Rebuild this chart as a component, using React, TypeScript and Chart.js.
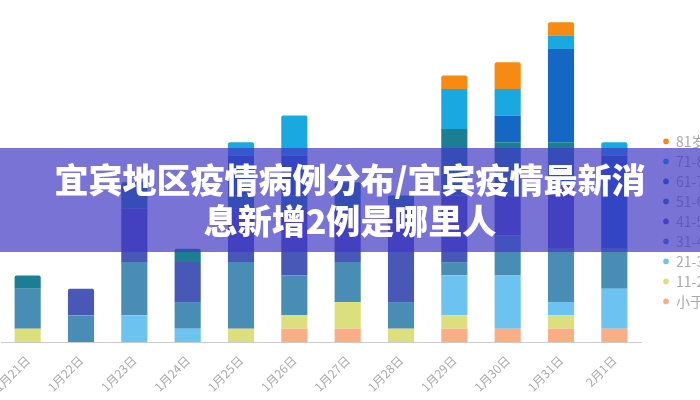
import { useEffect, useRef } from "react"
import { Chart, registerables } from "chart.js"

Chart.register(...registerables)

// Categories (dates) and case counts per age group, bottom of stack first
const categories = ["1月21日", "1月22日", "1月23日", "1月24日", "1月25日", "1月26日", "1月27日", "1月28日", "1月29日", "1月30日", "1月31日", "2月1日"]

const ageGroups = ["小于10岁", "11-20岁", "21-30岁", "31-40岁", "41-50岁", "51-60岁", "61-70岁", "71-80岁", "81岁以上"]

const under10 = [0, 0, 0, 0, 0, 1, 1, 0, 1, 1, 1, 1]
const age11to20 = [1, 0, 0, 0, 1, 1, 2, 1, 1, 0, 1, 0]
const age21to30 = [0, 0, 2, 1, 0, 0, 0, 0, 3, 4, 1, 3]
const age31to40 = [3, 2, 4, 2, 5, 3, 3, 2, 1, 3, 4, 3]
const age41to50 = [0, 2, 4, 3, 4, 5, 4, 7, 5, 3, 5, 0]
const age51to60 = [1, 0, 2, 1, 1, 1, 2, 1, 5, 4, 3, 0]
const age61to70 = [0, 0, 0, 0, 3, 3, 0, 0, 0, 2, 7, 7]
const age71to80 = [0, 0, 0, 0, 1, 3, 0, 0, 3, 2, 1, 1]
const over80 = [0, 0, 0, 0, 0, 0, 0, 0, 1, 2, 1, 0]

const colors = ["#f9ae88", "#dce07c", "#6cc3f0", "#4a8db4", "#4858b6", "#1c7e95", "#1467c2", "#1aa8e0", "#f68a12"]

const titleLine1 = "宜宾地区疫情病例分布/宜宾疫情最新消"
const titleLine2 = "息新增2例是哪里人"

const FONT = "'Noto Sans CJK SC', 'Noto Sans', sans-serif"

export default function App() {
  const chartRef = useRef<HTMLCanvasElement>(null)
  const chartInstance = useRef<Chart | null>(null)

  useEffect(() => {
    if (!chartRef.current) return

    const series = [under10, age11to20, age21to30, age31to40, age41to50, age51to60, age61to70, age71to80, over80]

    if (chartInstance.current) {
      chartInstance.current.destroy()
    }

    const ctx = chartRef.current.getContext("2d")
    if (ctx) {
      chartInstance.current = new Chart(ctx, {
        type: "bar",
        data: {
          labels: categories,
          datasets: series.map((data, i) => ({
            label: ageGroups[i],
            data,
            backgroundColor: colors[i],
            borderWidth: 0,
            borderRadius: 2,
            barPercentage: 0.49,
            categoryPercentage: 1,
          })),
        },
        options: {
          responsive: true,
          maintainAspectRatio: false,
          animation: false,
          layout: {
            padding: { left: 1, top: 9, right: 0, bottom: 0 },
          },
          plugins: {
            legend: {
              position: "right",
              align: "start",
              reverse: true,
              maxWidth: 60,
              title: {
                display: true,
                text: "",
                padding: { top: 0, bottom: 105 },
              },
              labels: {
                usePointStyle: true,
                pointStyle: "circle",
                boxWidth: 6,
                boxHeight: 4,
                padding: 6,
                color: "#aaaaaa",
                font: { size: 14, family: FONT },
              },
            },
            tooltip: { enabled: false },
          },
          scales: {
            x: {
              stacked: true,
              grid: { display: false },
              border: { color: "#cccccc" },
              ticks: {
                color: "#aaaaaa",
                font: { size: 12, family: FONT },
                minRotation: 45,
                maxRotation: 45,
                autoSkip: false,
              },
              afterFit: (scale) => {
                // the first label is allowed to run off the left edge
                scale.height = 58
                scale.paddingLeft = 0
                scale.paddingRight = 0
              },
            },
            y: {
              stacked: true,
              position: "right",
              min: 0,
              max: 25,
              grid: { display: false },
              border: { display: false },
              ticks: { display: false },
              afterFit: (scale) => {
                scale.width = 16
              },
            },
          },
        },
      })
    }

    return () => {
      if (chartInstance.current) {
        chartInstance.current.destroy()
        chartInstance.current = null
      }
    }
  }, [])

  return (
    <div style={{ position: "fixed", left: 0, top: 0, width: 700, height: 400, overflow: "hidden", background: "#fff" }}>
      <div style={{ position: "absolute", left: 0, top: 0, width: 717, height: 400 }}>
        <canvas ref={chartRef} />
      </div>
      <div
        style={{
          position: "absolute",
          left: 0,
          top: 148,
          width: 700,
          height: 104,
          boxSizing: "border-box",
          paddingTop: 10,
          background: "rgba(65, 56, 196, 0.7)",
          color: "#fff",
          fontFamily: FONT,
          fontWeight: 900,
          fontSize: 34,
          lineHeight: "41px",
          textAlign: "center",
          whiteSpace: "nowrap",
        }}
      >
        {titleLine1}
        <br />
        {titleLine2}
      </div>
    </div>
  )
}
